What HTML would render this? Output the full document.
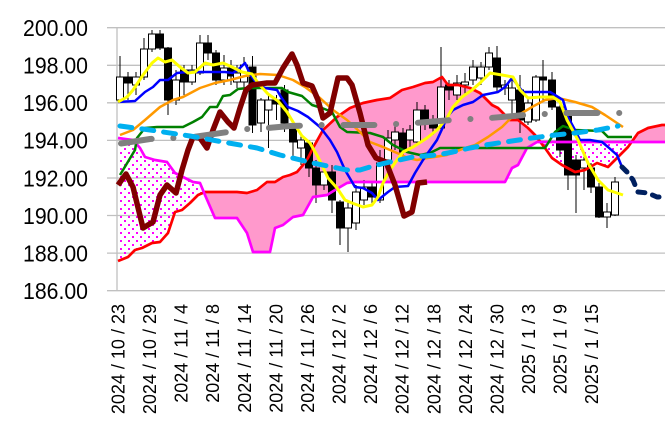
<!DOCTYPE html>
<html><head><meta charset="utf-8"><style>
html,body{margin:0;padding:0;background:#fff;}
svg{display:block;}
text{font-family:"Liberation Sans",Arial,sans-serif;fill:#000;}
</style></head><body>
<svg width="665" height="430" viewBox="0 0 665 430" xmlns="http://www.w3.org/2000/svg">
<defs>
<pattern id="dots" patternUnits="userSpaceOnUse" width="8" height="8">
<rect x="0" y="0" width="2" height="2" fill="#FF00FF"/>
<rect x="4" y="4" width="2" height="2" fill="#FF00FF"/>
</pattern>
<clipPath id="aboveMag"><polygon points="118,138 133,140 140,148 145,157 155,160 167,162 175,173 183,177 193,182 200,183 205,195 215,218 237,218 247,233 253,252 270,252 275,228 283,225 293,217 303,215 313,197 327,195 335,190 347,183 353,182 505,182 512,168 518,165 527,148 537,142 665,142 665,0 118,0"/></clipPath>
<clipPath id="belowMag"><polygon points="118,138 133,140 140,148 145,157 155,160 167,162 175,173 183,177 193,182 200,183 205,195 215,218 237,218 247,233 253,252 270,252 275,228 283,225 293,217 303,215 313,197 327,195 335,190 347,183 353,182 505,182 512,168 518,165 527,148 537,142 665,142 665,430 118,430"/></clipPath>
</defs>
<rect width="665" height="430" fill="#fff"/>

<g stroke="#C0C0C0" stroke-width="1.3">
<line x1="107" y1="27.7" x2="665" y2="27.7"/>
<line x1="107" y1="65.3" x2="665" y2="65.3"/>
<line x1="107" y1="102.8" x2="665" y2="102.8"/>
<line x1="107" y1="140.4" x2="665" y2="140.4"/>
<line x1="107" y1="178" x2="665" y2="178"/>
<line x1="107" y1="215.5" x2="665" y2="215.5"/>
<line x1="107" y1="253.1" x2="665" y2="253.1"/>
<line x1="107" y1="290.7" x2="665" y2="290.7"/>
<line x1="117" y1="27.7" x2="117" y2="290.7"/>
</g>

<g font-size="23" text-anchor="end">
<text x="88" y="36" textLength="65" lengthAdjust="spacingAndGlyphs">200.00</text>
<text x="88" y="73.6" textLength="65" lengthAdjust="spacingAndGlyphs">198.00</text>
<text x="88" y="111.1" textLength="65" lengthAdjust="spacingAndGlyphs">196.00</text>
<text x="88" y="148.7" textLength="65" lengthAdjust="spacingAndGlyphs">194.00</text>
<text x="88" y="186.3" textLength="65" lengthAdjust="spacingAndGlyphs">192.00</text>
<text x="88" y="223.8" textLength="65" lengthAdjust="spacingAndGlyphs">190.00</text>
<text x="88" y="261.4" textLength="65" lengthAdjust="spacingAndGlyphs">188.00</text>
<text x="88" y="299" textLength="65" lengthAdjust="spacingAndGlyphs">186.00</text>
</g>

<g font-size="18" text-anchor="end">
<text transform="translate(124.5,304) rotate(-90)">2024<tspan dx="5">/</tspan><tspan dx="5">10</tspan><tspan dx="5">/</tspan><tspan dx="5">23</tspan></text>
<text transform="translate(156.1,304) rotate(-90)">2024<tspan dx="5">/</tspan><tspan dx="5">10</tspan><tspan dx="5">/</tspan><tspan dx="5">29</tspan></text>
<text transform="translate(187.7,304) rotate(-90)">2024<tspan dx="5">/</tspan><tspan dx="5">11</tspan><tspan dx="5">/</tspan><tspan dx="5">4</tspan></text>
<text transform="translate(219.2,304) rotate(-90)">2024<tspan dx="5">/</tspan><tspan dx="5">11</tspan><tspan dx="5">/</tspan><tspan dx="5">8</tspan></text>
<text transform="translate(250.8,304) rotate(-90)">2024<tspan dx="5">/</tspan><tspan dx="5">11</tspan><tspan dx="5">/</tspan><tspan dx="5">14</tspan></text>
<text transform="translate(282.4,304) rotate(-90)">2024<tspan dx="5">/</tspan><tspan dx="5">11</tspan><tspan dx="5">/</tspan><tspan dx="5">20</tspan></text>
<text transform="translate(314,304) rotate(-90)">2024<tspan dx="5">/</tspan><tspan dx="5">11</tspan><tspan dx="5">/</tspan><tspan dx="5">26</tspan></text>
<text transform="translate(345.6,304) rotate(-90)">2024<tspan dx="5">/</tspan><tspan dx="5">12</tspan><tspan dx="5">/</tspan><tspan dx="5">2</tspan></text>
<text transform="translate(377.1,304) rotate(-90)">2024<tspan dx="5">/</tspan><tspan dx="5">12</tspan><tspan dx="5">/</tspan><tspan dx="5">6</tspan></text>
<text transform="translate(408.7,304) rotate(-90)">2024<tspan dx="5">/</tspan><tspan dx="5">12</tspan><tspan dx="5">/</tspan><tspan dx="5">12</tspan></text>
<text transform="translate(440.3,304) rotate(-90)">2024<tspan dx="5">/</tspan><tspan dx="5">12</tspan><tspan dx="5">/</tspan><tspan dx="5">18</tspan></text>
<text transform="translate(471.9,304) rotate(-90)">2024<tspan dx="5">/</tspan><tspan dx="5">12</tspan><tspan dx="5">/</tspan><tspan dx="5">24</tspan></text>
<text transform="translate(503.5,304) rotate(-90)">2024<tspan dx="5">/</tspan><tspan dx="5">12</tspan><tspan dx="5">/</tspan><tspan dx="5">30</tspan></text>
<text transform="translate(535,304) rotate(-90)">2025<tspan dx="5">/</tspan><tspan dx="5">1</tspan><tspan dx="5">/</tspan><tspan dx="5">3</tspan></text>
<text transform="translate(566.6,304) rotate(-90)">2025<tspan dx="5">/</tspan><tspan dx="5">1</tspan><tspan dx="5">/</tspan><tspan dx="5">9</tspan></text>
<text transform="translate(598.2,304) rotate(-90)">2025<tspan dx="5">/</tspan><tspan dx="5">1</tspan><tspan dx="5">/</tspan><tspan dx="5">15</tspan></text>
</g>

<g clip-path="url(#aboveMag)">
<polygon fill="#FF99CC" points="118,261 128,257 135,250 142,248 152,243 160,242 168,233 175,212 182,210 190,203 198,195 205,192 220,192 237,192 247,193 257,190 267,182 275,182 283,177 290,175 297,172 303,165 308,158 313,148 323,130 337,117 350,108 363,103 377,100 390,98 402,90 413,87 425,83 433,82 442,77 448,85 458,85 470,88 480,93 492,105 498,108 510,120 518,120 528,128 535,135 545,148 552,158 562,165 575,172 585,170 597,163 608,167 618,157 628,147 638,133 648,128 662,125 665,125 665,142 537,142 527,148 518,165 512,168 505,182 353,182 347,183 335,190 327,195 313,197 303,215 293,217 283,225 275,228 270,252 253,252 247,233 237,218 215,218 205,195 200,183 193,182 183,177 175,173 167,162 155,160 145,157 140,148 133,140 118,138"/>
</g>
<g clip-path="url(#belowMag)">
<polygon fill="url(#dots)" points="118,261 128,257 135,250 142,248 152,243 160,242 168,233 175,212 182,210 190,203 198,195 205,192 220,192 237,192 247,193 257,190 267,182 275,182 283,177 290,175 297,172 303,165 308,158 313,148 323,130 337,117 350,108 363,103 377,100 390,98 402,90 413,87 425,83 433,82 442,77 448,85 458,85 470,88 480,93 492,105 498,108 510,120 518,120 528,128 535,135 545,148 552,158 562,165 575,172 585,170 597,163 608,167 618,157 628,147 638,133 648,128 662,125 665,125 665,142 537,142 527,148 518,165 512,168 505,182 353,182 347,183 335,190 327,195 313,197 303,215 293,217 283,225 275,228 270,252 253,252 247,233 237,218 215,218 205,195 200,183 193,182 183,177 175,173 167,162 155,160 145,157 140,148 133,140 118,138"/>
</g>

<g id="candles" stroke="#000" stroke-width="1"></g>

<polyline fill="none" stroke="#FF0000" stroke-width="2.7" stroke-linejoin="round" points="118,261 128,257 135,250 142,248 152,243 160,242 168,233 175,212 182,210 190,203 198,195 205,192 220,192 237,192 247,193 257,190 267,182 275,182 283,177 290,175 297,172 303,165 308,158 313,148 323,130 337,117 350,108 363,103 377,100 390,98 402,90 413,87 425,83 433,82 442,77 448,85 458,85 470,88 480,93 492,105 498,108 510,120 518,120 528,128 535,135 545,148 552,158 562,165 575,172 585,170 597,163 608,167 618,157 628,147 638,133 648,128 662,125 665,125"/>
<polyline fill="none" stroke="#FF00FF" stroke-width="2.7" stroke-linejoin="round" points="118,138 133,140 140,148 145,157 155,160 167,162 175,173 183,177 193,182 200,183 205,195 215,218 237,218 247,233 253,252 270,252 275,228 283,225 293,217 303,215 313,197 327,195 335,190 347,183 353,182 505,182 512,168 518,165 527,148 537,142 665,142"/>

<polyline fill="none" stroke="#008000" stroke-width="2.5" stroke-linejoin="round" points="120,175 135,150 137,138 145,128 157,127 183,127 193,122 202,117 210,107 217,107 223,96 230,95 238,89 248,88 282,88 288,92 302,96 312,105 322,108 332,112 340,127 347,132 370,133 383,137 393,145 407,152 420,155 430,153 440,148 545,148 550,140 555,132 563,126 575,130 602,131 608,137 632,137"/>
<polyline fill="none" stroke="#FF9900" stroke-width="2.5" stroke-linejoin="round" points="120,135 133,130 145,120 160,107 173,100 183,97 200,88 215,83 230,80 245,76 260,74 278,75 293,80 305,87 320,98 333,110 347,120 360,132 370,142 383,147 397,153 408,158 417,160 428,158 447,155 465,148 475,145 488,137 502,127 512,117 522,113 532,107 545,100 558,98 575,102 592,107 605,115 623,127"/>
<polyline fill="none" stroke="#0000FF" stroke-width="2.5" stroke-linejoin="round" points="118,102 135,101 145,92 153,87 160,80 168,80 177,73 187,72 210,72 225,72 233,73 240,68 245,63 250,74 257,84 265,88 277,90 281,97 288,107 298,111 308,117 320,127 330,140 337,152 345,170 355,187 363,188 372,193 378,200 388,192 395,187 408,186 415,173 423,160 430,150 437,140 443,127 447,117 453,110 463,105 473,102 483,95 498,92 505,87 512,78 523,92 550,92 555,95 563,100 568,117 575,130 580,140 590,140 602,142 608,147 617,155 622,167"/>
<polyline fill="none" stroke="#FFFF00" stroke-width="3" stroke-linejoin="round" points="118,102 127,97 133,90 143,75 152,63 158,58 165,62 172,60 180,67 188,73 195,72 205,63 213,65 223,63 232,67 242,72 252,74 258,83 268,94 278,101 287,112 293,122 302,136 310,143 318,157 328,178 337,188 345,200 352,203 363,207 372,205 378,197 383,183 390,170 397,160 403,152 413,147 427,138 437,130 447,118 453,107 462,97 472,90 480,83 490,73 502,75 513,77 520,90 528,98 540,97 553,97 560,102 567,120 578,140 588,163 598,180 608,190 623,195"/>
<polyline fill="none" stroke="#800000" stroke-width="5.5" stroke-linejoin="round" points="118,185 126,174 133,187 143,228 153,222 160,195 167,185 176,193 182,170 188,150 193,137 200,138 207,148 213,130 220,112 228,122 234,128 240,108 246,90 252,85 267,83 275,83 283,68 292,54 297,65 303,83 312,86 318,100 323,118 330,113 338,78 347,78 352,85 360,113 368,145 376,158 386,162 395,185 404,216 412,212 418,183 427,182"/>
<polyline fill="none" stroke="#808080" stroke-width="6" stroke-linecap="round" stroke-linejoin="round" stroke-dasharray="31 21.7 0.1 21.7" points="121,143.5 150,139 174,138 193,137 228,132 247,129 267,128 290,126 322,125 377,125 396,124 415,123 452,120 470,119 490,118 525,115 544,114 563,113 620,113"/>
<polyline fill="none" stroke="#00B0F0" stroke-width="5" stroke-linecap="round" stroke-linejoin="round" stroke-dasharray="12 10" points="120,126 150,130 190,136 223,142 257,148 280,155 313,163 347,170 360,170 373,166 390,162 413,157 437,155 453,152 470,148 485,145 505,142 532,138 555,135 575,133 598,130 618,126"/>
<polyline fill="none" stroke="#002060" stroke-width="5" stroke-linecap="round" stroke-linejoin="round" stroke-dasharray="7 8" points="622,167 628,173 633,180 638,192 648,193 657,197 660,197"/>
</svg>
<script>
(function(){
var c=[
[120,'W',77,100,56,103],[128,'B',77,83,72,100],[136,'W',77,85,72,95],[144,'W',49,77,38,80],
[152,'W',34,49,30,52],[160,'B',34,48,30,50],[168,'B',48,100,47,115],[176,'W',80,100,70,105],
[184,'B',70,82,65,95],[192,'W',70,82,65,85],[200,'W',43,73,35,75],[208,'B',43,53,35,60],
[216,'B',53,80,50,85],[224,'W',68,80,55,85],[231,'B',68,76,60,85],[237,'W',73,82,65,88],
[244,'W',65,82,57,90],[252.5,'B',67,125,56,133],[261,'W',100,123,98,132],[268.5,'W',100,110,95,148],
[276.5,'B',100,104,95,120],[284.5,'B',90,123,85,132],[293,'B',125,142,120,160],[301,'W',140,148,135,165],
[309,'B',143,168,140,177],[316,'B',168,185,160,203],[324,'W',172,185,165,190],[332,'B',172,200,165,213],
[340,'B',202,228,200,245],[348,'W',208,228,200,252],[356,'W',192,223,185,230],[364,'W',187,200,180,205],
[372,'B',187,197,183,205],[380,'W',163,200,150,203],[388,'W',138,160,130,165],[395,'W',132,140,125,150],
[403,'B',133,152,128,158],[410,'W',130,140,125,150],[417,'W',110,142,102,145],[425,'B',110,120,105,130],
[433,'B',120,128,115,135],[441,'W',87,128,47,130],[449,'B',85,90,80,100],[457,'W',83,95,75,100],
[465,'W',82,85,73,95],[473,'W',67,80,60,85],[481,'W',67,78,62,85],[489,'W',53,67,47,70],
[497,'B',58,87,46,92],[505,'W',85,88,80,95],[512,'W',88,100,80,120],[520,'B',90,120,75,133],
[528,'W',103,122,98,125],[536,'W',77,120,75,122],[543,'B',77,80,60,100],[552,'B',80,107,72,110],
[560,'B',107,150,100,157],[568,'B',115,175,110,190],[576,'B',160,175,155,213],[584,'W',160,168,155,190],
[591,'B',168,187,163,193],[599,'B',187,217,183,218],[607,'W',212,217,203,228],[615,'W',182,215,177,216]
];
var g=document.getElementById('candles'),h='';
c.forEach(function(d){
var x=d[0];
h+='<line x1="'+x+'" y1="'+d[4]+'" x2="'+x+'" y2="'+d[5]+'"/>';
h+='<rect x="'+(x-3.5)+'" y="'+d[2]+'" width="7" height="'+Math.max(1,d[3]-d[2])+'" fill="'+(d[1]=='B'?'#000':'#fff')+'"/>';
});
g.innerHTML=h;
})();
</script>
</body></html>
